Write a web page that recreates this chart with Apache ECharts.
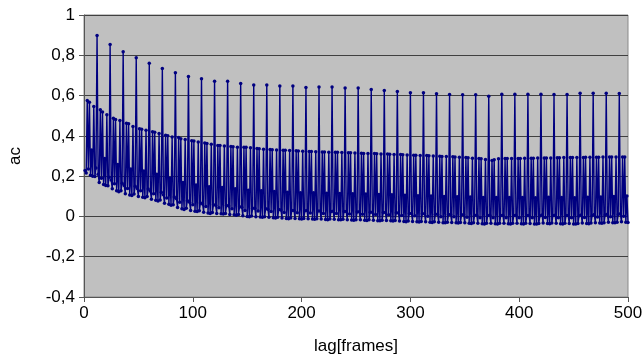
<!DOCTYPE html>
<html><head><meta charset="utf-8">
<script src="https://cdn.jsdelivr.net/npm/echarts@6/dist/echarts.min.js"></script>
<style>html,body{margin:0;padding:0;background:#fff}#c{width:643px;height:358px}</style>
</head><body><div id="c"></div>
<script>
// lag of first value
const firstLag = 1;
// autocorrelation values for lags 1..500 (rows of 12 lags)
const acValues = [
0.228,0.215,0.576,0.235,0.567,0.205,0.33,0.2,0.546,0.198,0.24,0.898,
0.21,0.168,0.529,0.19,0.518,0.158,0.288,0.153,0.505,0.152,0.195,0.854,
0.181,0.137,0.488,0.162,0.481,0.128,0.258,0.122,0.476,0.128,0.165,0.818,
0.153,0.112,0.463,0.139,0.46,0.106,0.236,0.104,0.447,0.111,0.15,0.788,
0.139,0.099,0.435,0.127,0.433,0.095,0.225,0.093,0.428,0.099,0.136,0.761,
0.126,0.085,0.421,0.112,0.418,0.08,0.21,0.077,0.412,0.082,0.12,0.735,
0.108,0.066,0.403,0.092,0.4,0.06,0.19,0.056,0.394,0.058,0.097,0.713,
0.088,0.044,0.392,0.07,0.386,0.038,0.168,0.035,0.382,0.04,0.078,0.695,
0.07,0.03,0.376,0.058,0.374,0.026,0.156,0.024,0.37,0.028,0.067,0.683,
0.062,0.021,0.364,0.049,0.362,0.017,0.147,0.015,0.358,0.019,0.058,0.671,
0.055,0.014,0.352,0.043,0.352,0.013,0.143,0.012,0.35,0.015,0.054,0.671,
0.052,0.01,0.347,0.038,0.346,0.008,0.138,0.006,0.344,0.01,0.048,0.66,
0.045,0.003,0.343,0.03,0.343,0,0.13,-0.002,0.341,0.002,0.04,0.652,
0.04,-0.002,0.337,0.027,0.336,-0.003,0.127,-0.004,0.334,-0.001,0.038,0.653,
0.036,-0.004,0.332,0.024,0.331,-0.006,0.124,-0.008,0.33,-0.004,0.034,0.647,
0.032,-0.008,0.329,0.02,0.328,-0.01,0.12,-0.012,0.327,-0.008,0.03,0.647,
0.03,-0.01,0.326,0.018,0.325,-0.012,0.118,-0.013,0.324,-0.01,0.028,0.64,
0.029,-0.011,0.322,0.017,0.322,-0.013,0.117,-0.014,0.321,-0.011,0.027,0.642,
0.027,-0.013,0.32,0.015,0.32,-0.015,0.115,-0.016,0.319,-0.013,0.025,0.642,
0.026,-0.014,0.318,0.014,0.318,-0.016,0.114,-0.017,0.317,-0.014,0.024,0.637,
0.024,-0.016,0.316,0.012,0.316,-0.018,0.112,-0.019,0.315,-0.016,0.022,0.637,
0.023,-0.017,0.314,0.011,0.313,-0.019,0.111,-0.02,0.313,-0.017,0.021,0.63,
0.021,-0.019,0.312,0.009,0.311,-0.021,0.109,-0.022,0.31,-0.019,0.019,0.625,
0.02,-0.02,0.31,0.008,0.309,-0.022,0.108,-0.023,0.308,-0.02,0.018,0.62,
0.017,-0.023,0.307,0.005,0.306,-0.025,0.105,-0.026,0.305,-0.023,0.015,0.614,
0.015,-0.025,0.304,0.003,0.304,-0.027,0.103,-0.028,0.303,-0.025,0.013,0.614,
0.013,-0.027,0.302,0.001,0.301,-0.029,0.101,-0.03,0.3,-0.027,0.011,0.609,
0.011,-0.029,0.299,-0.001,0.298,-0.031,0.099,-0.032,0.297,-0.029,0.009,0.605,
0.01,-0.03,0.296,-0.002,0.295,-0.032,0.098,-0.033,0.294,-0.03,0.008,0.604,
0.008,-0.032,0.292,-0.004,0.291,-0.034,0.096,-0.035,0.289,-0.032,0.006,0.604,
0.006,-0.034,0.287,-0.006,0.286,-0.036,0.094,-0.037,0.283,-0.034,0.004,0.597,
0.006,-0.034,0.278,-0.006,0.282,-0.036,0.094,-0.037,0.286,-0.034,0.004,0.607,
0.006,-0.034,0.287,-0.006,0.287,-0.036,0.094,-0.037,0.288,-0.034,0.004,0.607,
0.006,-0.034,0.288,-0.006,0.288,-0.036,0.094,-0.037,0.289,-0.034,0.004,0.607,
0.005,-0.035,0.289,-0.007,0.289,-0.037,0.093,-0.038,0.29,-0.035,0.003,0.607,
0.007,-0.033,0.29,-0.005,0.29,-0.035,0.095,-0.036,0.29,-0.033,0.005,0.605,
0.006,-0.034,0.291,-0.006,0.291,-0.036,0.094,-0.037,0.292,-0.034,0.004,0.605,
0.005,-0.035,0.292,-0.007,0.292,-0.037,0.093,-0.038,0.293,-0.035,0.003,0.612,
0.007,-0.033,0.293,-0.005,0.294,-0.035,0.095,-0.036,0.294,-0.033,0.005,0.612,
0.009,-0.031,0.294,-0.003,0.294,-0.033,0.097,-0.034,0.295,-0.031,0.007,0.612,
0.011,-0.029,0.295,-0.001,0.295,-0.031,0.099,-0.032,0.295,-0.029,0.009,0.61,
0.013,-0.027,0.295,0.001,0.295,-0.029,0.101,-0.03
];
const xTickValues = [0, 100, 200, 300, 400, 500];
const yTickValues = [-0.4, -0.2, 0, 0.2, 0.4, 0.6, 0.8, 1];
const xAxisTitle = 'lag[frames]';
const yAxisTitle = 'ac';

const points = acValues.map((v, i) => [firstLag + i, v]);
const fmtComma = v => {
  const r = Math.round(v * 10) / 10;
  return (r === 0 ? '0' : String(r)).replace('.', ',');
};
const FONT = '"Liberation Sans", Arial, sans-serif';

const chart = echarts.init(document.getElementById('c'), null, {renderer: 'canvas'});
chart.setOption({
  animation: false,
  backgroundColor: '#ffffff',
  grid: {left: 84, right: 15, top: 15, bottom: 61, show: true, containLabel: false,
         outerBoundsMode: 'none',
         backgroundColor: '#c0c0c0', borderColor: '#8a8a8a', borderWidth: 1},
  xAxis: {
    type: 'value', min: xTickValues[0], max: xTickValues[xTickValues.length - 1], interval: 100,
    name: xAxisTitle, nameLocation: 'middle', nameGap: 41,
    nameTextStyle: {fontFamily: FONT, fontSize: 17, color: '#000'},
    axisLine: {show: true, onZero: false, lineStyle: {color: '#555', width: 1}},
    axisTick: {show: true, length: 5, lineStyle: {color: '#555'}},
    axisLabel: {fontFamily: FONT, fontSize: 17, color: '#000', margin: 8},
    splitLine: {show: false}
  },
  yAxis: {
    type: 'value', min: yTickValues[0], max: yTickValues[yTickValues.length - 1], interval: 0.2,
    name: yAxisTitle, nameLocation: 'middle', nameGap: 60, nameRotate: 90,
    nameTextStyle: {fontFamily: FONT, fontSize: 17, color: '#000'},
    axisLine: {show: true, lineStyle: {color: '#555', width: 1}},
    axisTick: {show: true, length: 5, lineStyle: {color: '#555'}},
    axisLabel: {fontFamily: FONT, fontSize: 17, color: '#000', margin: 9, formatter: fmtComma},
    splitLine: {show: true, lineStyle: {color: '#404040', width: 1}}
  },
  series: [{
    type: 'line', data: points, showAllSymbol: true,
    symbol: 'circle', symbolSize: 3.5,
    lineStyle: {color: '#000080', width: 1.4},
    itemStyle: {color: '#000080'},
    sampling: null, silent: true
  }]
});
</script></body></html>
